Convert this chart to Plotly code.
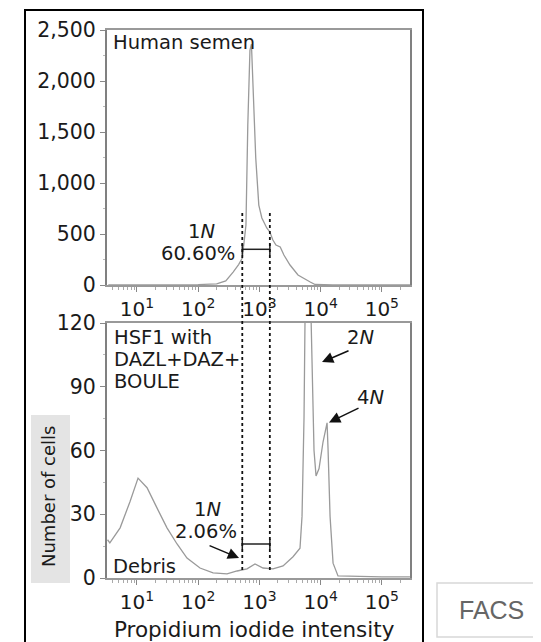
import numpy as np
import plotly.graph_objects as go

W, H = 541, 642

# ---------------- data ----------------
# Top panel: human semen (PI intensity, number of cells)
semen_x = [3.4, 10, 32, 100, 200, 282, 372, 457, 525, 603, 646, 700, 741, 794, 871,
           977, 1096, 1318, 1479, 1660, 1862, 2188, 2512, 3162, 4266, 6761, 8128,
           15849, 100000, 288000]
semen_y = [2, 3, 2, 4, 12, 40, 127, 200, 265, 588, 1570, 2300, 2360, 1890, 1245,
           784, 657, 559, 520, 441, 392, 373, 294, 196, 98, 29, 5,
           2, 1, 1]

# Bottom panel: HSF1 with DAZL+DAZ+BOULE
hsf_x = [3.3, 3.6, 5.3, 7.7, 10.4, 14.6, 21.2, 30.9, 45.1, 65.6, 107, 175, 296, 431,
         627, 847, 1146, 1667, 2432, 3540, 4600, 4966, 5358, 5560, 6166, 6761, 7228,
         7516, 7798, 8414, 9419, 10940, 12740, 13210, 14260, 15960, 19230, 100000, 288000]
hsf_y = [18, 16.5, 23.6, 36, 47, 42.5, 33, 23.6, 16, 9.4, 4.7, 2.4, 1.9, 3.3,
         4.3, 6.6, 4.7, 4.3, 5.7, 10, 14, 29, 76, 130, 250, 140, 100,
         80, 60, 48, 51.5, 64, 73, 61, 29, 7, 1, 0.5, 0.5]

# 1N gate
gate_lo, gate_hi = 525, 1480
gate_level_top = 350
gate_level_bottom = 16

# arrow tips (intensity, cells) in bottom panel
arrow_labels = ["1N", "2N", "4N"]
arrow_tip_x = [465, 10540, 13710]
arrow_tip_y = [9.4, 101.6, 73.2]

x_tickvals = [10, 100, 1000, 10000, 100000]
x_ticktext = ["10<sup>1</sup>", "10<sup>2</sup>", "10<sup>3</sup>",
              "10<sup>4</sup>", "10<sup>5</sup>"]
top_yticks = [0, 500, 1000, 1500, 2000, 2500]
bottom_yticks = [0, 30, 60, 90, 120]

# ---------------- helpers ----------------
OFF = 8  # page body margin


def X(px):
    return (px - OFF) / W


def Y(py):
    return 1 - (py - OFF) / H


FONT = "DejaVu Sans"
TXT = "#1a1a1a"
CURVE = "#9a9a9a"

fig = go.Figure()

fig.add_trace(go.Scatter(x=semen_x, y=semen_y, mode="lines",
                         line=dict(color=CURVE, width=1.3), xaxis="x", yaxis="y",
                         showlegend=False, hoverinfo="skip"))
fig.add_trace(go.Scatter(x=hsf_x, y=hsf_y, mode="lines",
                         line=dict(color=CURVE, width=1.3), xaxis="x2", yaxis="y2",
                         showlegend=False, hoverinfo="skip"))

# gate bars with end ticks
for xa, ya, lvl, d in [("x", "y", gate_level_top, 55), ("x2", "y2", gate_level_bottom, 2.4)]:
    fig.add_trace(go.Scatter(x=[gate_lo, gate_hi], y=[lvl, lvl], mode="lines",
                             line=dict(color="#222", width=1.5), xaxis=xa, yaxis=ya,
                             showlegend=False, hoverinfo="skip"))
    fig.add_trace(go.Scatter(x=[gate_lo, gate_lo, None, gate_hi, gate_hi],
                             y=[lvl - d, lvl + d, None, lvl - d, lvl + d], mode="lines",
                             line=dict(color="#222", width=1.5), xaxis=xa, yaxis=ya,
                             showlegend=False, hoverinfo="skip"))

axis_common = dict(showline=True, mirror=True, linewidth=2, showgrid=False,
                   zeroline=False, ticks="outside", tickcolor="#888", automargin=False,
                   tickfont=dict(family=FONT, size=20.5, color=TXT))

xcommon = dict(axis_common, type="log", range=[0.51, 5.46], linecolor="#999",
               tickvals=x_tickvals, ticktext=x_ticktext, ticklen=5,
               tickfont=dict(family=FONT, size=20, color=TXT),
               minor=dict(ticks="outside", ticklen=3, dtick="D1", tickcolor="#aaa",
                          showgrid=False))

fig.update_layout(
    width=W, height=H, margin=dict(l=0, r=0, t=0, b=0, autoexpand=False),
    paper_bgcolor="white", plot_bgcolor="white",
    xaxis=dict(xcommon, domain=[X(107), X(410)], anchor="y"),
    yaxis=dict(axis_common, domain=[Y(285), Y(30)], anchor="x", range=[0, 2500],
               tickvals=top_yticks, tickformat=",d", linecolor="#808080", ticklen=5,
               minor=dict(ticks="outside", ticklen=2, dtick=250, tickcolor="#bbb")),
    xaxis2=dict(xcommon, domain=[X(107), X(410)], anchor="y2"),
    yaxis2=dict(axis_common, domain=[Y(578), Y(323)], anchor="x2", range=[0, 120],
                tickvals=bottom_yticks, linecolor="#808080", ticklen=5,
                minor=dict(ticks="outside", ticklen=2, dtick=15, tickcolor="#bbb")),
)

shapes = []
# outer black frame
shapes.append(dict(type="rect", xref="paper", yref="paper", x0=X(25), x1=X(423),
                   y0=-0.03, y1=Y(10), line=dict(color="black", width=2), layer="below"))
# y-title grey box
shapes.append(dict(type="rect", xref="paper", yref="paper", x0=X(31), x1=X(70),
                   y0=Y(583), y1=Y(415), fillcolor="#e4e4e4", line=dict(width=0),
                   layer="below"))
# FACS box
shapes.append(dict(type="rect", xref="paper", yref="paper", x0=X(437), x1=X(552),
                   y0=Y(637), y1=Y(583), line=dict(color="#d8d8d8", width=1.5)))
# dotted gate lines spanning both panels
for gx in (gate_lo, gate_hi):
    shapes.append(dict(type="line", xref="x", yref="paper", x0=gx, x1=gx,
                       y0=Y(570), y1=Y(213), line=dict(color="#111", width=1.8, dash="dot")))
fig.update_layout(shapes=shapes)

ann = []


def text(px, py, s, size=19.5, anchor="left", color=TXT, family=FONT, angle=0):
    ann.append(dict(x=X(px), y=Y(py), xref="paper", yref="paper", text=s,
                    showarrow=False, xanchor=anchor, yanchor="middle", textangle=angle,
                    font=dict(family=family, size=size, color=color)))


text(111, 43, "Human semen")
text(201, 231, "1<i>N</i>", anchor="center")
text(198, 253, "60.60%", anchor="center")
text(112, 338, "HSF1 with")
text(112, 360, "DAZL+DAZ+")
text(112, 382, "BOULE")
text(207, 509, "1<i>N</i>", anchor="center")
text(206, 531, "2.06%", anchor="center")
text(111, 566, "Debris")
text(360, 338, "2<i>N</i>", anchor="center")
text(370, 397, "4<i>N</i>", anchor="center")
text(254, 629, "Propidium iodide intensity", size=21.5, anchor="center")
text(48, 497, "Number of cells", size=18, anchor="center", angle=-90)
text(491, 610, "FACS", size=25, anchor="center", color="#666", family="Liberation Sans")

tails = [(-31, -13), (28, -12), (31, -15)]
for tx, ty, (axp, ayp) in zip(arrow_tip_x, arrow_tip_y, tails):
    ann.append(dict(x=np.log10(tx), y=ty, xref="x2", yref="y2", text="",
                    showarrow=True, ax=axp, ay=ayp, arrowhead=2, arrowsize=1.5,
                    arrowwidth=1.5, arrowcolor="#111"))
fig.update_layout(annotations=ann)

fig.write_html("out.html")
